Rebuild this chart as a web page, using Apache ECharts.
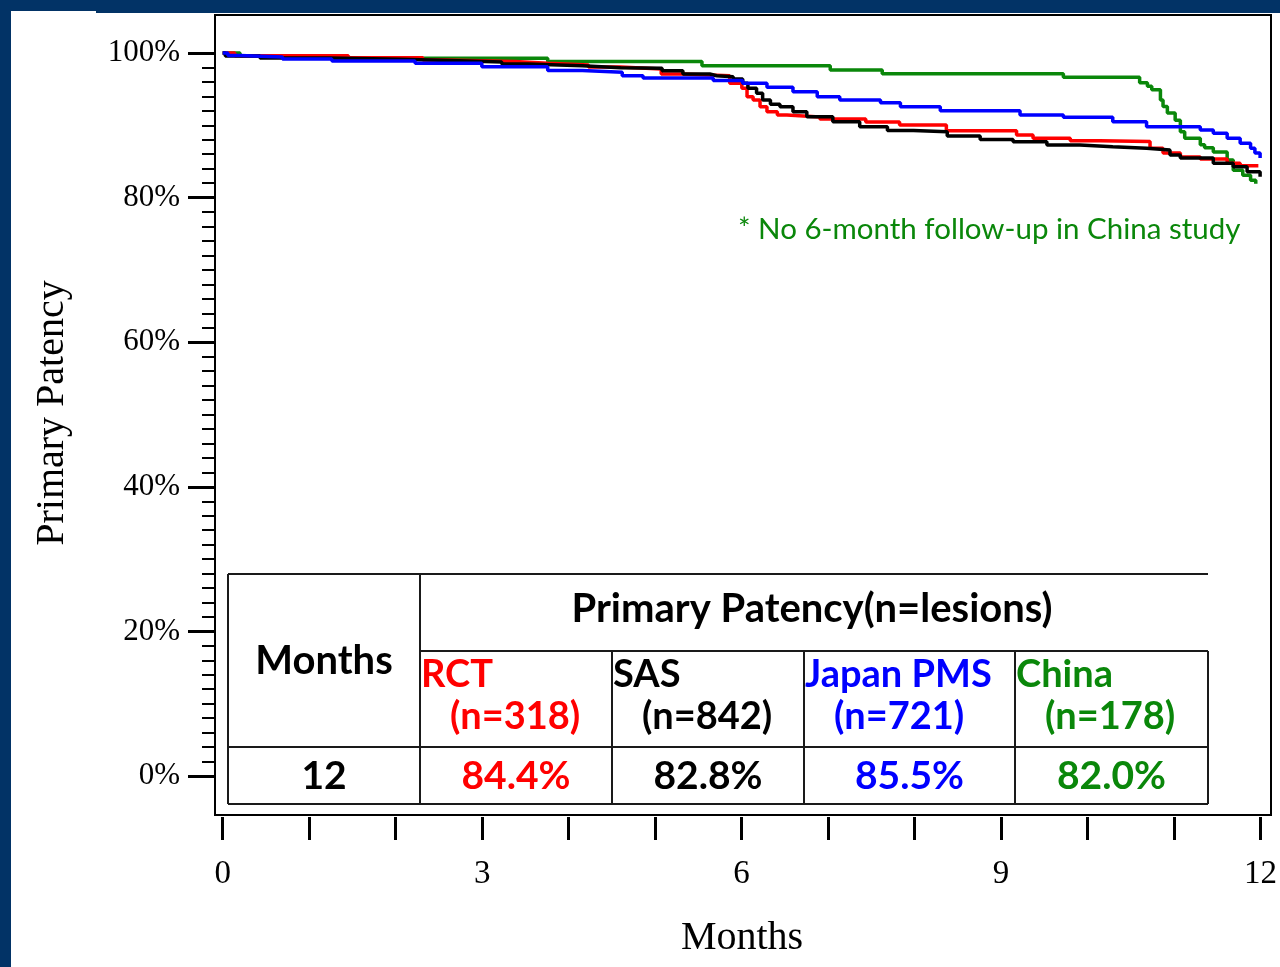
<!DOCTYPE html>
<html>
<head>
<meta charset="utf-8">
<script src="https://cdn.jsdelivr.net/npm/echarts@6/dist/echarts.min.js"></script>
<style>
html,body{margin:0;padding:0;background:#023366;}
#chart{position:absolute;left:0;top:0;width:1280px;height:967px;}
</style>
</head>
<body>
<div id="chart"></div>
<script>
// ---- Data ----
const rctMonths = [0, 0.14, 1.45, 2.31, 2.57, 3.37, 3.75, 4.22, 4.59, 5.06, 5.30, 5.85, 5.99, 6.05, 6.12, 6.20, 6.28, 6.40, 6.51, 6.89, 7.42, 7.81, 8.35, 9.16, 9.35, 9.78, 10.12, 10.70, 10.85, 11.05, 11.28, 11.59, 11.74, 11.95];
const rctValues = [100, 99.63, 99.35, 99.03, 98.82, 98.58, 98.34, 98.06, 97.79, 97.10, 96.86, 95.81, 95.12, 93.96, 93.5, 92.57, 91.88, 91.42, 91.15, 90.87, 90.46, 90.04, 89.25, 88.66, 88.20, 87.87, 87.76, 86.82, 86.17, 85.62, 85.34, 84.74, 84.4, 84.4];

const sasMonths = [0, 0.03, 0.43, 1.24, 2.05, 2.62, 3.22, 3.52, 4.15, 4.59, 5.07, 5.31, 5.62, 5.70, 5.89, 6.00, 6.06, 6.16, 6.23, 6.32, 6.43, 6.58, 6.74, 7.04, 7.35, 7.67, 7.97, 8.36, 8.74, 9.12, 9.51, 9.89, 10.27, 10.66, 10.93, 11.05, 11.43, 11.66, 11.82, 11.97];
const sasValues = [100, 99.6, 99.3, 99.13, 98.96, 98.76, 98.48, 98.24, 97.97, 97.88, 97.55, 97.10, 96.86, 96.72, 96.40, 95.81, 95.12, 94.43, 93.50, 92.90, 92.57, 91.88, 91.19, 90.50, 89.81, 89.28, 89.11, 88.52, 88.04, 87.73, 87.28, 87.04, 86.82, 86.58, 85.89, 85.48, 84.74, 84.27, 83.58, 82.89];

const japanMonths = [0, 0.06, 0.2, 0.69, 1.26, 2.22, 2.99, 3.75, 4.15, 4.61, 4.85, 5.66, 6.00, 6.28, 6.58, 6.86, 7.12, 7.59, 7.82, 8.28, 9.20, 9.70, 10.27, 10.66, 11.28, 11.43, 11.59, 11.74, 11.86, 11.91, 11.97];
const japanValues = [100, 99.65, 99.45, 99.17, 98.89, 98.58, 98.11, 97.58, 97.33, 96.86, 96.54, 96.2, 95.81, 95.26, 94.65, 93.96, 93.50, 93.13, 92.57, 92.02, 91.42, 91.11, 90.50, 89.81, 89.35, 88.89, 88.20, 87.51, 86.82, 86.17, 85.48];

const chinaMonths = [0, 0.2, 0.98, 3.75, 5.53, 7.01, 7.61, 9.70, 10.58, 10.67, 10.72, 10.82, 10.85, 10.90, 10.99, 11.05, 11.10, 11.28, 11.33, 11.43, 11.59, 11.66, 11.77, 11.86, 11.92];
const chinaValues = [100, 99.63, 99.27, 98.82, 98.24, 97.65, 97.12, 96.64, 95.89, 95.4, 94.9, 93.5, 92.6, 91.7, 90.7, 89.1, 88.2, 87.3, 86.9, 86.3, 85.2, 83.8, 83.1, 82.4, 81.9];

const xLabelMonths = [0, 3, 6, 9, 12];
const studyNames = ['RCT', 'SAS', 'Japan PMS', 'China'];
const studyN = ['(n=318)', '(n=842)', '(n=721)', '(n=178)'];
const patency12 = ['84.4%', '82.8%', '85.5%', '82.0%'];
const tableTitle = 'Primary Patency(n=lesions)';
const rowMonth = '12';
const note = '* No 6-month follow-up in China study';

// ---- Styles ----
const colors = { rct: '#ff0000', sas: '#000000', japan: '#0000ff', china: '#0a870a' };
const studyColors = [colors.rct, colors.sas, colors.japan, colors.china];
const serif = '"Liberation Serif", "DejaVu Serif", serif';
const sans = 'Lato, "Open Sans", sans-serif';

function zip(xs, ys) { return xs.map((x, i) => [x, ys[i]]); }
function km(name, xs, ys, color) {
  return {
    name, type: 'line', step: 'end', symbol: 'none', clip: false,
    xAxisIndex: 0, yAxisIndex: 0,
    data: zip(xs, ys),
    lineStyle: { color, width: 3.5 },
    itemStyle: { color },
    animation: false
  };
}

const tableLine = (x1, y1, x2, y2) => ({
  type: 'line', shape: { x1, y1, x2, y2 },
  style: { stroke: '#1a1a1a', lineWidth: 2 }, z: 50
});
const txt = (x, y, text, color, size, align, weight, family) => ({
  type: 'text', x, y, z: 60,
  style: { text, fill: color, font: (weight || 'bold') + ' ' + size + 'px ' + (family || sans),
           textAlign: align || 'center', textVerticalAlign: 'middle' }
});

const colLeft = [420, 612, 804, 1015];
const colRight = [612, 804, 1015, 1208];

const graphics = [
  { type: 'rect', shape: { x: 11, y: 13, width: 1269, height: 954 }, style: { fill: '#ffffff' }, z: -10, silent: true },
  { type: 'rect', shape: { x: 11, y: 11, width: 85, height: 3 }, style: { fill: '#ffffff' }, z: -10, silent: true },
  { type: 'rect', shape: { x: 215, y: 15, width: 1056, height: 800 }, style: { fill: 'none', stroke: '#000', lineWidth: 2 }, z: 40 },
  // table frame
  { type: 'rect', shape: { x: 229, y: 575, width: 978, height: 228 }, style: { fill: '#ffffff' }, z: 45 },
  tableLine(228, 574, 1208, 574),
  tableLine(228, 574, 228, 804),
  tableLine(420, 574, 420, 804),
  tableLine(420, 651, 1208, 651),
  tableLine(612, 651, 612, 804),
  tableLine(804, 651, 804, 804),
  tableLine(1015, 651, 1015, 804),
  tableLine(1208, 651, 1208, 804),
  tableLine(228, 747, 1208, 747),
  tableLine(228, 804, 1208, 804),
  txt(812, 609, tableTitle, '#000', 40),
  txt(324, 661, 'Months', '#000', 40),
  txt(324, 776, rowMonth, '#000', 39),
  // axis titles and note
  { type: 'text', x: 52, y: 413, rotation: Math.PI / 2, z: 60,
    style: { text: 'Primary Patency', fill: '#000', font: 'normal 40px ' + serif, textAlign: 'center', textVerticalAlign: 'middle' } },
  txt(742, 938, 'Months', '#000', 40, 'center', 'normal', serif),
  txt(738, 229, note, colors.china, 29.5, 'left', 'normal')
];
studyNames.forEach((s, i) => {
  graphics.push(txt(colLeft[i] + 1, 675, s, studyColors[i], 38, 'left'));
  graphics.push(txt(colLeft[i] + 30, 717, studyN[i], studyColors[i], 38, 'left'));
  graphics.push(txt((colLeft[i] + colRight[i]) / 2, 776, patency12[i], studyColors[i], 39));
});

const chart = echarts.init(document.getElementById('chart'), null, { renderer: 'canvas' });
chart.setOption({
  backgroundColor: 'transparent',
  animation: false,
  grid: [
    { left: 222.7, right: 17.3, top: 53, bottom: 191, containLabel: false },   // data
    { left: 215, right: 9, top: 53, bottom: 191, containLabel: false },        // y axis
    { left: 222.7, right: 17.3, top: 800, bottom: 150, containLabel: false }   // x axis
  ],
  xAxis: [
    { gridIndex: 0, type: 'value', min: 0, max: 12, show: false },
    { gridIndex: 1, type: 'value', min: 0, max: 12, show: false },
    {
      gridIndex: 2, type: 'value', min: 0, max: 12, interval: 1, position: 'bottom',
      axisLine: { show: false },
      axisTick: { show: true, length: 23, lineStyle: { color: '#000', width: 3 } },
      splitLine: { show: false },
      axisLabel: {
        margin: 41, color: '#000', fontFamily: serif, fontSize: 33,
        formatter: v => (xLabelMonths.indexOf(v) >= 0 ? String(v) : '')
      }
    }
  ],
  yAxis: [
    { gridIndex: 0, type: 'value', min: 0, max: 100, show: false },
    {
      gridIndex: 1, type: 'value', min: 0, max: 100, interval: 20, position: 'left',
      axisLine: { show: false },
      axisTick: { show: true, length: 27, lineStyle: { color: '#000', width: 3 } },
      minorTick: { show: true, splitNumber: 10, length: 13, lineStyle: { color: '#000', width: 2 } },
      splitLine: { show: false },
      minorSplitLine: { show: false },
      axisLabel: { margin: 35, color: '#000', fontFamily: serif, fontSize: 31, formatter: v => v + '%' }
    },
    { gridIndex: 2, type: 'value', min: 0, max: 1, show: false }
  ],
  series: [
    km('China', chinaMonths, chinaValues, colors.china),
    km('RCT', rctMonths, rctValues, colors.rct),
    km('SAS', sasMonths, sasValues, colors.sas),
    km('Japan PMS', japanMonths, japanValues, colors.japan)
  ],
  graphic: graphics
});
</script>
</body>
</html>
